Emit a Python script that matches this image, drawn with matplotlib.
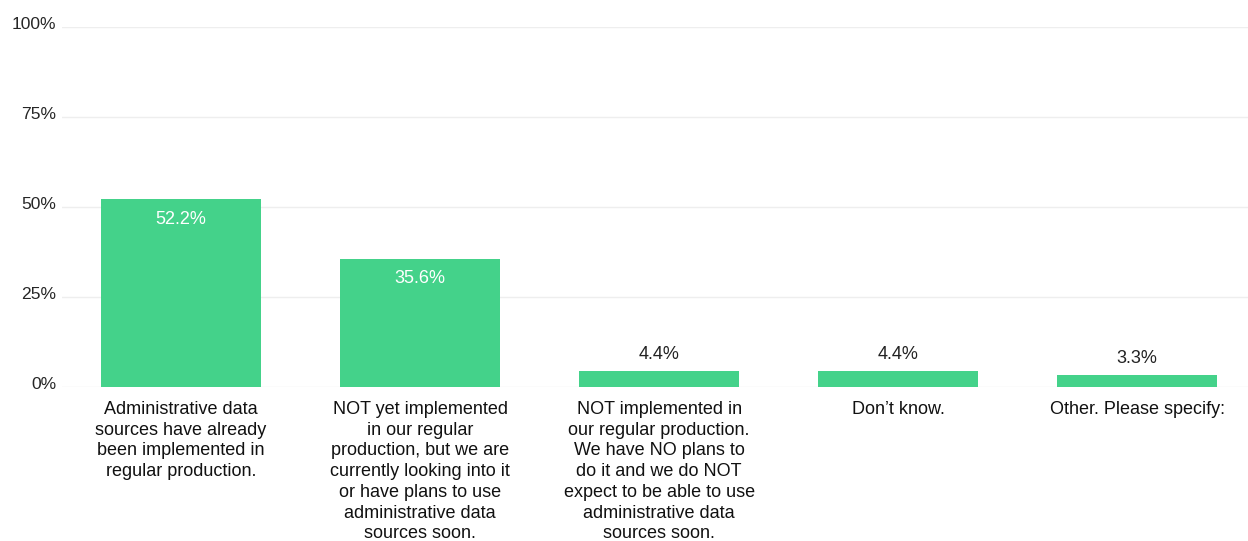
import matplotlib.pyplot as plt
import matplotlib.transforms as mtransforms
import numpy as np

plt.rcParams['font.family'] = ['Liberation Sans', 'DejaVu Sans']

categories = [
    "Administrative data\nsources have already\nbeen implemented in\nregular production.",
    "NOT yet implemented\nin our regular\nproduction, but we are\ncurrently looking into it\nor have plans to use\nadministrative data\nsources soon.",
    "NOT implemented in\nour regular production.\nWe have NO plans to\ndo it and we do NOT\nexpect to be able to use\nadministrative data\nsources soon.",
    "Don\u2019t know.",
    "Other. Please specify:",
]
shares = [52.2, 35.6, 4.4, 4.4, 3.3]
y_ticks = [0, 25, 50, 75, 100]

bar_color = "#44d28a"

fig = plt.figure(figsize=(12.48, 5.41), dpi=100)
ax = fig.add_axes([0.0497, 0.2847, 0.9503, 0.6654])

x = np.arange(len(categories))
ax.bar(x, shares, width=0.67, color=bar_color, zorder=2)

# values go inside tall bars, above short ones
for xi, v in zip(x, shares):
    if v > 20:
        ax.annotate(f"{v:.1f}%", (xi, v), xytext=(0, -14.5), textcoords="offset points",
                    ha="center", va="center", color="white", fontsize=13)
    else:
        ax.annotate(f"{v:.1f}%", (xi, v), xytext=(0, 12.0), textcoords="offset points",
                    ha="center", va="center", color="#222222", fontsize=13)

ax.set_ylim(0, 100)
ax.set_xlim(-0.498, 4.464)
ax.set_yticks(y_ticks)
ax.set_yticklabels([f"{t}%" for t in y_ticks], fontsize=12.6, color="#262626")
ax.set_xticks(x)
ax.set_xticklabels(categories, fontsize=13, color="#111111", linespacing=1.29, va="top")
ax.tick_params(axis="both", length=0)
ax.tick_params(axis="y", pad=4)
ax.tick_params(axis="x", pad=10)

# lift the y labels a little above their gridlines
lift = mtransforms.ScaledTranslation(0, 4 / 100, fig.dpi_scale_trans)
for lbl in ax.get_yticklabels():
    lbl.set_transform(lbl.get_transform() + lift)

ax.grid(axis="y", color="#eeeeee", linewidth=1, zorder=0)
for s in ax.spines.values():
    s.set_visible(False)

fig.savefig("out.png", dpi=100)
